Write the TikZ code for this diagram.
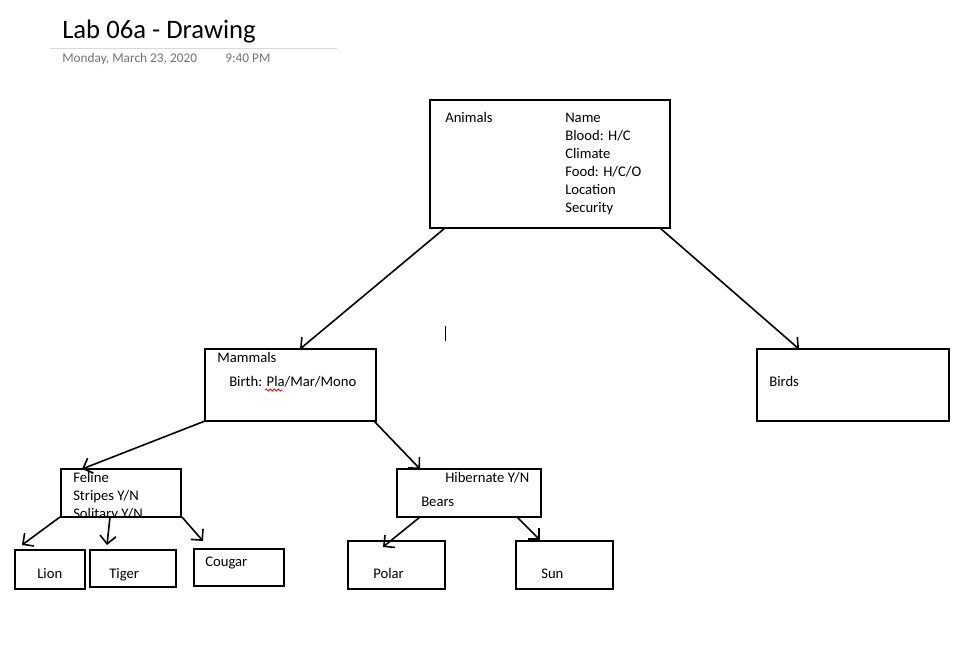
\documentclass[tikz,border=0pt]{standalone}
\usepackage{fontspec}
\setmainfont{Carlito}
\usetikzlibrary{arrows.meta,calc,decorations.pathmorphing}
\begin{document}
\begin{tikzpicture}[x=0.75pt,y=-0.75pt,
  box/.style={draw,line width=1.3pt,inner sep=0pt,outer sep=0pt,rectangle},
  txt/.style={anchor=base west,inner sep=0pt,font=\fontsize{11}{13}\selectfont},
  conn/.style={line width=1.2pt,-{Straight Barb[length=6pt,width=12pt,line width=1.2pt]}}]
\useasboundingbox[fill=white] (0,0) rectangle (979,646);
% header
\node[anchor=base west,inner sep=0pt,font=\fontsize{20}{24}\selectfont] (title) at (62,38) {Lab 06a - Drawing};
\draw[color=black!15,line width=0.75pt] (50,48) -- (337,48);
\node[anchor=base west,inner sep=0pt,text=black!55,font=\fontsize{10}{12}\selectfont] (date) at (62,62) {Monday, March 23, 2020};
\node[anchor=base west,inner sep=0pt,text=black!55,font=\fontsize{10}{12}\selectfont] (time) at (225,62) {9:40 PM};
% boxes
\node[box,minimum width=180pt,minimum height=96pt] (animals) at (550,164) {};
\node[box,minimum width=128.25pt,minimum height=54pt] (mammals) at (290.5,385) {};
\node[box,minimum width=144pt,minimum height=54pt] (birds) at (853,385) {};
\node[box,minimum width=90pt,minimum height=36pt] (feline) at (121,493) {};
\node[box,minimum width=108pt,minimum height=36pt] (bears) at (469,493) {};
\node[box,minimum width=52.5pt,minimum height=29.25pt] (lion) at (50,569.5) {};
\node[box,minimum width=64.5pt,minimum height=27.75pt] (tiger) at (133,568.5) {};
\node[box,minimum width=67.5pt,minimum height=27.75pt] (cougar) at (239,567.5) {};
\node[box,minimum width=72.75pt,minimum height=36pt] (polar) at (396.5,565) {};
\node[box,minimum width=72.75pt,minimum height=36pt] (sun) at (564.5,565) {};
% texts
\node[txt] (t-animals) at (445,122) {Animals};
\node[txt] (t-name) at (565,122) {Name};
\node[txt] (t-blood) at (565,140) {Blood: H/C};
\node[txt] (t-climate) at (565,158) {Climate};
\node[txt] (t-food) at (565,176) {Food: H/C/O};
\node[txt] (t-loc) at (565,194) {Location};
\node[txt] (t-sec) at (565,212) {Security};
\node[txt] (t-mammals) at (217,362) {Mammals};
\node[txt] (t-birth) at (229,386) {Birth: Pla/Mar/Mono};
\draw[red,line width=0.6pt,decorate,decoration={snake,amplitude=0.8pt,segment length=3pt}] (265,390) -- (283,390);
\node[txt] (t-birds) at (769,386) {Birds};
\begin{scope}
\clip (61,469) rectangle (181,517);
\node[txt] (t-feline) at (73,482) {Feline};
\node[txt] (t-stripes) at (73,500) {Stripes Y/N};
\node[txt] (t-solitary) at (73,518) {Solitary Y/N};
\end{scope}
\node[box,minimum width=90pt,minimum height=36pt] at (121,493) {};
\node[txt] (t-hib) at (445,482) {Hibernate Y/N};
\node[txt] (t-bears) at (421,506) {Bears};
\node[txt] (t-lion) at (37,578) {Lion};
\node[txt] (t-tiger) at (109,578) {Tiger};
\node[txt] (t-cougar) at (205,566) {Cougar};
\node[txt] (t-polar) at (373,578) {Polar};
\node[txt] (t-sun) at (541,578) {Sun};
% text cursor
\draw[line width=0.75pt] (445,326) -- (445,341);
% connectors
\draw[conn] ($(animals.south west)+(15,0)$) -- ($(mammals.north west)+(95,0)$);
\draw[conn] ($(animals.south east)+(-10,0)$) -- ($(birds.north west)+(42,0)$);
\draw[conn] (mammals.south west) -- ($(feline.north west)+(21,0)$);
\draw[conn] ($(mammals.south east)+(-2,0)$) -- ($(bears.north west)+(23,0)$);
\draw[conn] ($(feline.south west)+(-1,0)$) -- ($(lion.north west)+(7,-5)$);
\draw[conn] ($(feline.south west)+(49,0)$) -- ($(tiger.north west)+(17,-5)$);
\draw[conn] ($(feline.south east)+(1,0)$) -- ($(cougar.north west)+(9,-8)$);
\draw[conn] ($(bears.south west)+(23,0)$) -- ($(polar.north west)+(35,6)$);
\draw[conn] ($(bears.south east)+(-24,0)$) -- ($(sun.north west)+(24,-1)$);
\end{tikzpicture}
\end{document}
